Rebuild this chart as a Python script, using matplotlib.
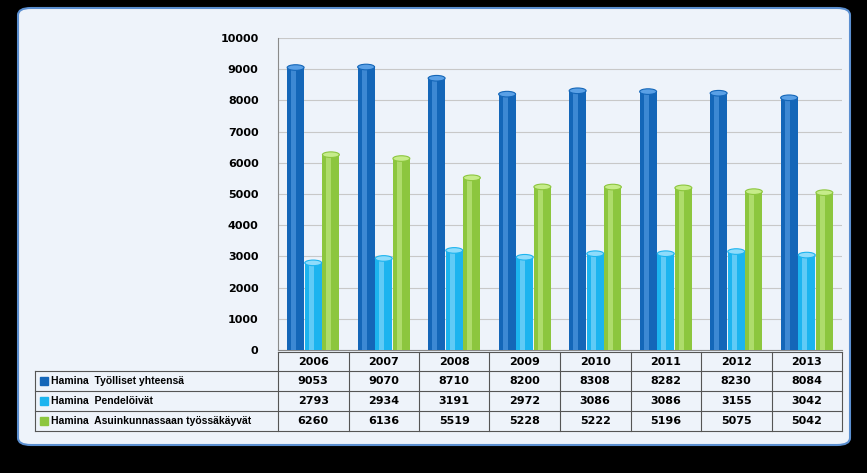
import matplotlib.pyplot as plt
import numpy as np
from matplotlib.patches import FancyBboxPatch, Ellipse, Rectangle

years = ['2006', '2007', '2008', '2009', '2010', '2011', '2012', '2013']
tyolliset = [9053, 9070, 8710, 8200, 8308, 8282, 8230, 8084]
pendeloivat = [2793, 2934, 3191, 2972, 3086, 3086, 3155, 3042]
asuinkunnassa = [6260, 6136, 5519, 5228, 5222, 5196, 5075, 5042]
series_names = ['Hamina  Työlliset yhteensä', 'Hamina  Pendelöivät',
                'Hamina  Asuinkunnassaan työssäkäyvät']
colors = ['#1466b8', '#1cb4ef', '#8cc63e']
light = ['#5aa0e6', '#8fdcfb', '#c6ec8a']

W, H = 867, 473
fig = plt.figure(figsize=(W / 100, H / 100), dpi=100, facecolor='black')

# inner panel
panel = FancyBboxPatch((18 / W, 1 - 445 / H), 832 / W, 437 / H,
                       boxstyle='round,pad=0,rounding_size=0.015',
                       transform=fig.transFigure, facecolor='#eef3fa',
                       edgecolor='#5b8fd0', linewidth=1.5, zorder=-5)
fig.patches.append(panel)

L, R = 278 / W, 842 / W
ax = fig.add_axes([L, 1 - 350 / H, R - L, 312 / H])
ax.set_facecolor('#eef3fa')
x = np.arange(len(years))
bw = 0.24
data = [tyolliset, pendeloivat, asuinkunnassa]
offs = [-0.25, 0.0, 0.25]
for s, (vals, c, lc, o) in enumerate(zip(data, colors, light, offs)):
    ax.bar(x + o, vals, bw, color=c, zorder=3)
    ax.bar(x + o - bw * 0.12, vals, bw * 0.3, color=lc, alpha=0.6, zorder=4)
    for xi, v in zip(x + o, vals):
        ax.add_patch(Ellipse((xi, v), bw, 180, facecolor=lc, edgecolor=c,
                             linewidth=0.8, zorder=5))
ax.set_xlim(-0.5, len(years) - 0.5)
ax.set_ylim(0, 10000)
ax.set_yticks(range(0, 10001, 1000))
ax.yaxis.grid(True, color='#c8c8c8', linewidth=0.8, zorder=0)
ax.set_xticks([])
ax.tick_params(axis='y', labelsize=8, length=0, pad=14)
for t in ax.get_yticklabels():
    t.set_fontweight('bold')
for sp in ['top', 'right']:
    ax.spines[sp].set_visible(False)
ax.spines['left'].set_color('#8a8a8a')
ax.spines['bottom'].set_color('#8a8a8a')

# data table
tx0 = 35 / W
col_w = (R - L) / len(years)
row_tops = [352, 371, 391, 411, 431]
lc = '#555555'
for i in range(5):
    y = 1 - row_tops[i] / H
    x0 = L if i == 0 else tx0
    fig.add_artist(plt.Line2D([x0, R], [y, y], color=lc, lw=0.8, transform=fig.transFigure))
for j in range(len(years) + 1):
    xx = L + j * col_w
    fig.add_artist(plt.Line2D([xx, xx], [1 - 352 / H, 1 - 431 / H], color=lc, lw=0.8,
                              transform=fig.transFigure))
fig.add_artist(plt.Line2D([tx0, tx0], [1 - 371 / H, 1 - 431 / H], color=lc, lw=0.8,
                          transform=fig.transFigure))
for j, yr in enumerate(years):
    fig.text(L + (j + 0.5) * col_w, 1 - 362 / H, yr, ha='center', va='center',
             fontsize=8, fontweight='bold')
for i, (name, vals, c) in enumerate(zip(series_names, data, colors)):
    yc = 1 - (row_tops[i + 1] + 10) / H
    fig.add_artist(Rectangle((40 / W, yc - 4 / H), 8 / W, 8 / H, color=c,
                             transform=fig.transFigure))
    fig.text(51 / W, yc, name, ha='left', va='center', fontsize=7.5, fontweight='bold',
             family='Liberation Sans')
    for j, v in enumerate(vals):
        fig.text(L + (j + 0.5) * col_w, yc, str(v), ha='center', va='center',
                 fontsize=8, fontweight='bold')

fig.savefig('out.png', dpi=100, facecolor='black')
